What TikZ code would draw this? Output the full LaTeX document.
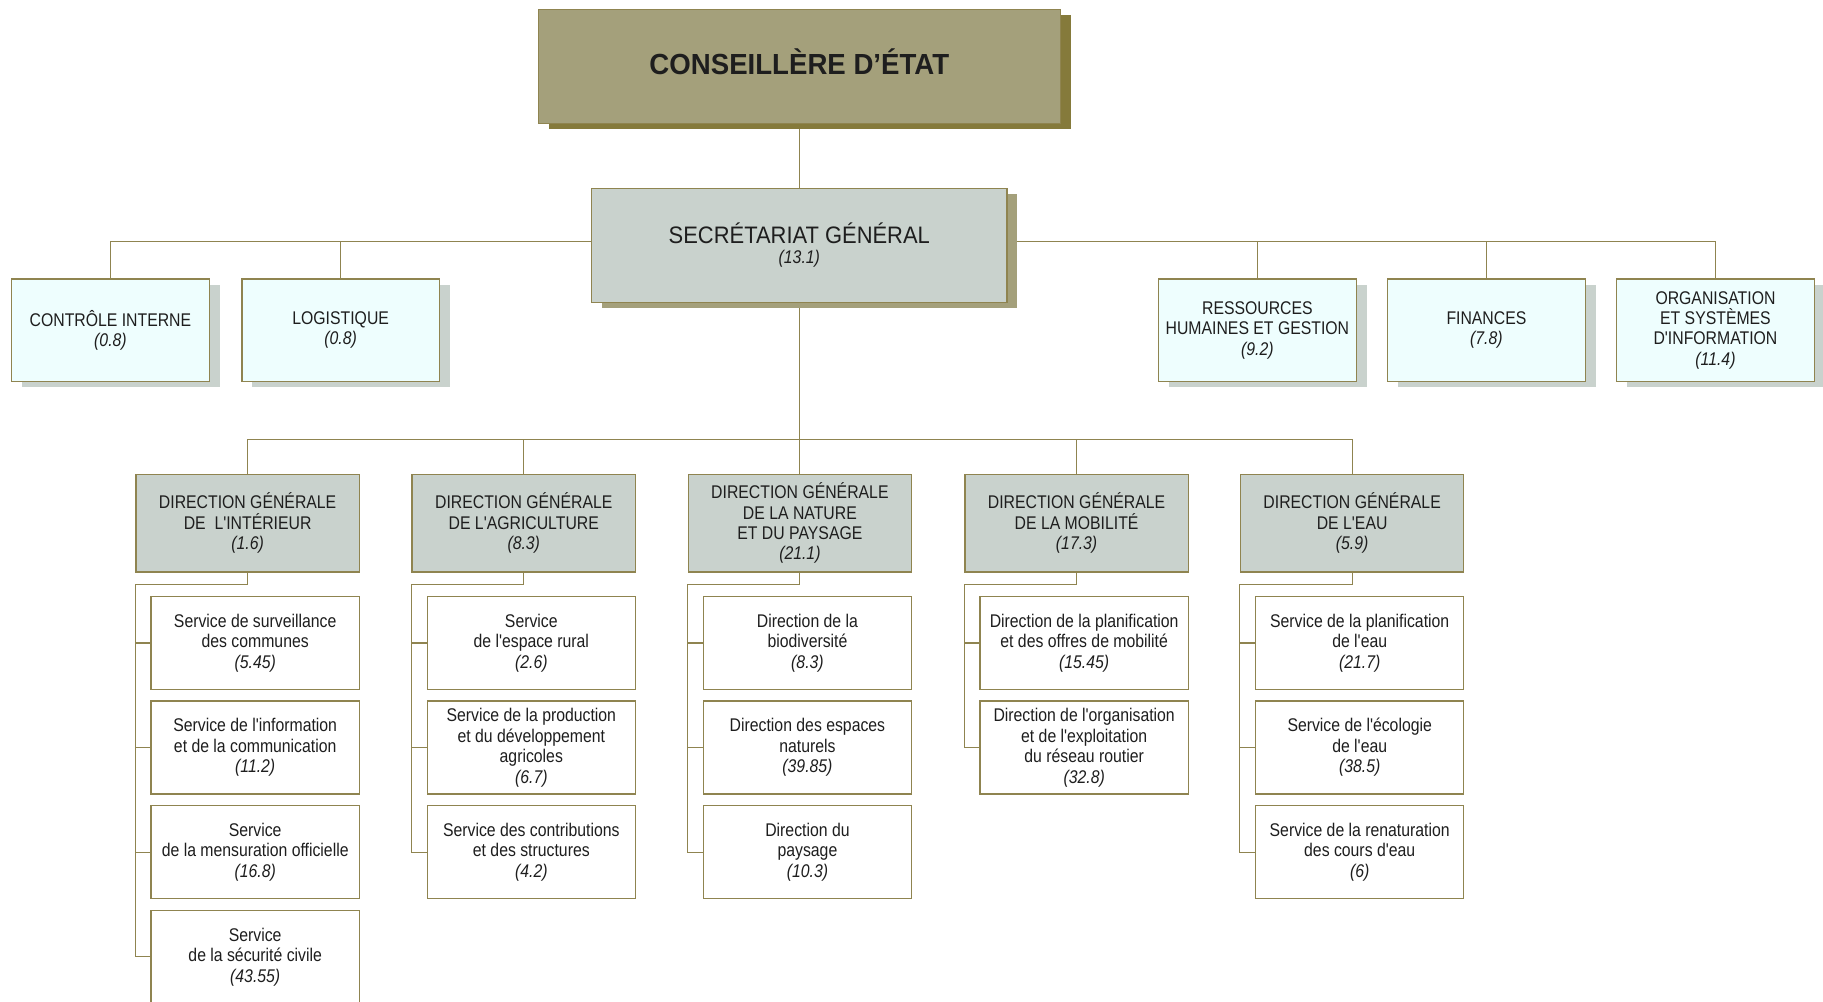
\documentclass[tikz,border=0pt]{standalone}
\usepackage{fontspec}
\setmainfont{Liberation Sans}[FakeStretch=0.86, Ligatures=TeXOff]
\newfontfamily\widefont{Liberation Sans}[FakeStretch=0.92, Ligatures=TeXOff]
\newfontfamily\headfont{Liberation Sans}[FakeStretch=0.95]
\usetikzlibrary{shadows,backgrounds}

\definecolor{khaki}{HTML}{A4A07B}
\definecolor{khakidark}{HTML}{857A3B}
\definecolor{sage}{HTML}{C9D2CD}
\definecolor{ice}{HTML}{EEFEFE}
\definecolor{rule}{HTML}{8F8450}
\definecolor{ink}{HTML}{1E1E1E}

\tikzset{
  base/.style={draw=rule, line width=1.2pt, align=center, text=ink, inner sep=2pt,
    font=\fontsize{15.8}{17.6}\selectfont},
  boxshadow/.style={general shadow={fill=#1, shadow xshift=9pt, shadow yshift=-5pt}},
  unit/.style={base, fill=ice, minimum width=170pt, minimum height=88pt, boxshadow=sage},
  dg/.style={base, fill=sage, minimum width=192pt, minimum height=84pt},
  svc/.style={base, fill=white, minimum width=179pt, minimum height=80pt},
  link/.style={draw=rule, line width=1pt},
}
\newcommand\fte[1]{\textit{(#1)}}

\begin{document}
\begin{tikzpicture}[x=1pt,y=-1pt]
\path[use as bounding box] (0,0) rectangle (1568,861);

% top level
\node[base, fill=khaki, boxshadow=khakidark, minimum width=449pt, minimum height=98pt,
      text height=17.5pt, text depth=3pt,
      font=\headfont\bfseries\fontsize{25}{29}\selectfont] (ce) at (687.5,57) {CONSEILLÈRE D’ÉTAT};
\node[base, fill=sage, boxshadow=khaki, minimum width=357pt, minimum height=98pt] (sg) at (687.5,211)
  {{\widefont\fontsize{20.5}{22}\selectfont SECRÉTARIAT GÉNÉRAL}\\\fte{13.1}};

% staff units
\node[unit] (ci)  at (95,284)     {CONTRÔLE INTERNE\\\fte{0.8}};
\node[unit] (lo)  at (293,284)    {LOGISTIQUE\\\fte{0.8}};
\node[unit] (rh)  at (1081.5,284) {RESSOURCES\\HUMAINES ET GESTION\\\fte{9.2}};
\node[unit] (fi)  at (1278.5,284) {FINANCES\\\fte{7.8}};
\node[unit] (osi) at (1475.5,284) {ORGANISATION\\ET SYSTÈMES\\D'INFORMATION\\\fte{11.4}};

% general directorates
\node[dg] (dgi)  at (213,450)   {DIRECTION GÉNÉRALE\\DE\ \ L'INTÉRIEUR\\\fte{1.6}};
\node[dg] (dga)  at (450.5,450) {DIRECTION GÉNÉRALE\\DE L'AGRICULTURE\\\fte{8.3}};
\node[dg] (dgn)  at (688,450)   {DIRECTION GÉNÉRALE\\DE LA NATURE\\ET DU PAYSAGE\\\fte{21.1}};
\node[dg] (dgm)  at (926,450)   {DIRECTION GÉNÉRALE\\DE LA MOBILITÉ\\\fte{17.3}};
\node[dg] (dge)  at (1163,450)  {DIRECTION GÉNÉRALE\\DE L'EAU\\\fte{5.9}};

% services: interior
\node[svc] (i1) at (219.5,553) {Service de surveillance\\des communes\\\fte{5.45}};
\node[svc] (i2) at (219.5,643) {Service de l'information\\et de la communication\\\fte{11.2}};
\node[svc] (i3) at (219.5,733) {Service\\de la mensuration officielle\\\fte{16.8}};
\node[svc] (i4) at (219.5,823) {Service\\de la sécurité civile\\\fte{43.55}};
% services: agriculture
\node[svc] (a1) at (457,553) {Service\\de l'espace rural\\\fte{2.6}};
\node[svc] (a2) at (457,643) {Service de la production\\et du développement\\agricoles\\\fte{6.7}};
\node[svc] (a3) at (457,733) {Service des contributions\\et des structures\\\fte{4.2}};
% services: nature and landscape
\node[svc] (n1) at (694.5,553) {Direction de la\\biodiversité\\\fte{8.3}};
\node[svc] (n2) at (694.5,643) {Direction des espaces\\naturels\\\fte{39.85}};
\node[svc] (n3) at (694.5,733) {Direction du\\paysage\\\fte{10.3}};
% services: mobility
\node[svc] (m1) at (932.5,553) {Direction de la planification\\et des offres de mobilité\\\fte{15.45}};
\node[svc] (m2) at (932.5,643) {Direction de l'organisation\\et de l'exploitation\\du réseau routier\\\fte{32.8}};
% services: water
\node[svc] (e1) at (1169.5,553) {Service de la planification\\de l'eau\\\fte{21.7}};
\node[svc] (e2) at (1169.5,643) {Service de l'écologie\\de l'eau\\\fte{38.5}};
\node[svc] (e3) at (1169.5,733) {Service de la renaturation\\des cours d'eau\\\fte{6}};

% connectors
\begin{scope}[on background layer]
  \draw[link] (ce.south) -- (sg.north);
  \draw[link] ([yshift=3pt]sg.west) -| (ci.north);
  \draw[link] ([yshift=3pt]sg.west) -| (lo.north);
  \draw[link] ([yshift=3pt]sg.east) -| (rh.north);
  \draw[link] ([yshift=3pt]sg.east) -| (fi.north);
  \draw[link] ([yshift=3pt]sg.east) -| (osi.north);

  \coordinate (bus) at (687.5,378);
  \draw[link] (sg.south) -- (bus);
  \foreach \d in {dgi,dga,dgn,dgm,dge}
    \draw[link] (bus) -| (\d.north);

  \coordinate (ji) at ([yshift=-10pt]dgi.south west);
  \coordinate (ja) at ([yshift=-10pt]dga.south west);
  \coordinate (jn) at ([yshift=-10pt]dgn.south west);
  \coordinate (jm) at ([yshift=-10pt]dgm.south west);
  \coordinate (je) at ([yshift=-10pt]dge.south west);

  \draw[link] (dgi.south) |- (ji) |- (i4.west);
  \foreach \s in {i1,i2,i3} \draw[link] (ji) |- (\s.west);
  \draw[link] (dga.south) |- (ja) |- (a3.west);
  \foreach \s in {a1,a2} \draw[link] (ja) |- (\s.west);
  \draw[link] (dgn.south) |- (jn) |- (n3.west);
  \foreach \s in {n1,n2} \draw[link] (jn) |- (\s.west);
  \draw[link] (dgm.south) |- (jm) |- (m2.west);
  \draw[link] (jm) |- (m1.west);
  \draw[link] (dge.south) |- (je) |- (e3.west);
  \foreach \s in {e1,e2} \draw[link] (je) |- (\s.west);
\end{scope}
\end{tikzpicture}
\end{document}
